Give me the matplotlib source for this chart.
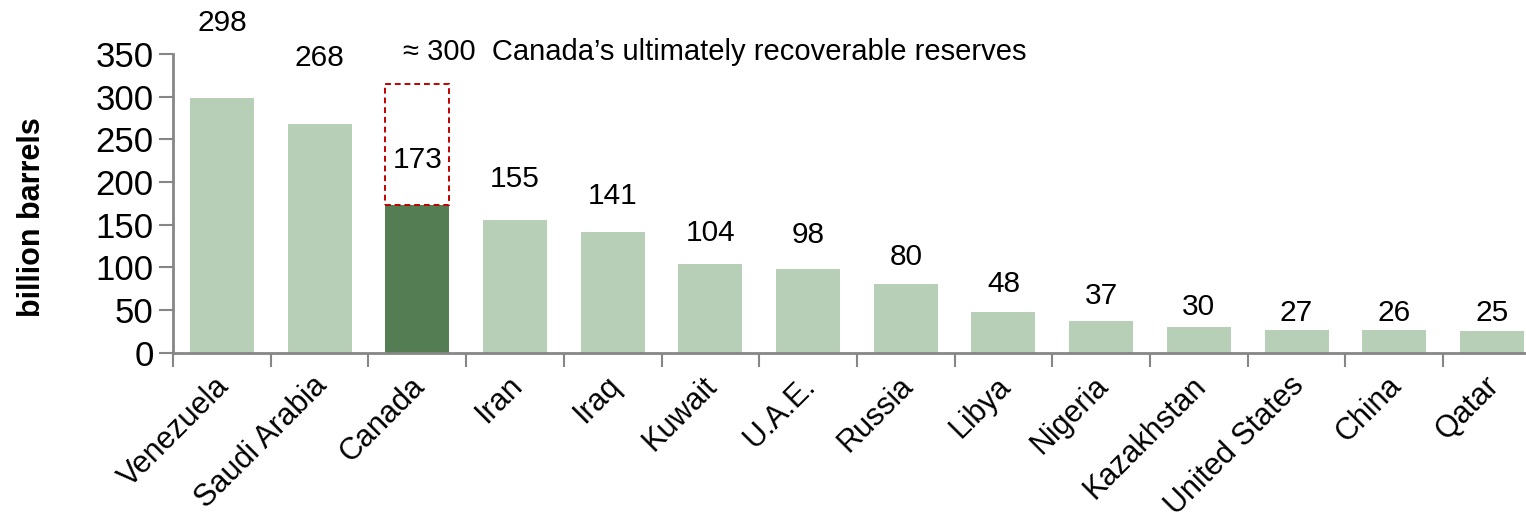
import matplotlib
matplotlib.use("Agg")
import matplotlib.pyplot as plt
from matplotlib.patches import Rectangle
from matplotlib.ticker import FixedLocator, MultipleLocator
from matplotlib.transforms import ScaledTranslation

plt.rcParams['font.family'] = ['Liberation Sans', 'DejaVu Sans']

countries = ["Venezuela", "Saudi Arabia", "Canada", "Iran", "Iraq", "Kuwait",
             "U.A.E.", "Russia", "Libya", "Nigeria", "Kazakhstan",
             "United States", "China", "Qatar"]
reserves = [298, 268, 173, 155, 141, 104, 98, 80, 48, 37, 30, 27, 26, 25]
# heights (in billion barrels) at which the value labels sit
label_pos = [386, 345, 226, 203, 183, 140, 138, 112, 80, 66, 53, 46, 46, 47]
canada_ultimate = 315
canada_note = "\u2248 300  Canada\u2019s ultimately recoverable reserves"

light = "#B7CFB7"
dark = "#547D54"
axis_grey = "#868686"

fig = plt.figure(figsize=(15.26, 5.15), dpi=100)
ax = fig.add_axes([0.1134, 0.3152, 0.8963, 0.580])

x = list(range(len(countries)))
colors = [dark if c == "Canada" else light for c in countries]
bw = 0.655
ax.bar(x, reserves, width=bw, color=colors, edgecolor="none", zorder=2)

for xi, v, ly in zip(x, reserves, label_pos):
    ax.text(xi, ly, f"{v}", ha="center", va="center", fontsize=21.5,
            color="black", clip_on=False)

# dashed outline for Canada's ultimately recoverable reserves
ci = countries.index("Canada")
c_val = reserves[ci]
ax.add_patch(Rectangle((ci - bw / 2, c_val), bw, canada_ultimate - c_val,
                       fill=False, edgecolor="#C00000", linestyle=(0, (3, 2)),
                       linewidth=1.4, clip_on=False, zorder=3))
ax.text(ci - bw / 2 + 0.18, 352, canada_note, ha="left", va="center",
        fontsize=21, color="black", clip_on=False)

ax.set_xlim(-0.5, len(countries) - 0.5)
ax.set_ylim(0, 350)
ax.yaxis.set_major_locator(MultipleLocator(50))
ax.tick_params(axis="y", labelsize=25, length=10, width=1.5, color=axis_grey,
               direction="out", pad=4)

ax.set_xticks(x)
ax.set_xticklabels(countries, rotation=45, ha="right", rotation_mode="anchor",
                   fontsize=22)
ax.tick_params(axis="x", which="major", length=0, pad=16)
shift = ScaledTranslation(-8 / 100, 4 / 100, fig.dpi_scale_trans)
for lab in ax.get_xticklabels():
    lab.set_transform(lab.get_transform() + shift)
ax.xaxis.set_minor_locator(FixedLocator([i - 0.5 for i in range(len(countries) + 1)]))
ax.tick_params(axis="x", which="minor", length=10, width=1.5, color=axis_grey,
               direction="out")

for s in ["top", "right"]:
    ax.spines[s].set_visible(False)
for s in ["left", "bottom"]:
    ax.spines[s].set_color(axis_grey)
    ax.spines[s].set_linewidth(2)

ax.set_ylabel("billion barrels", fontsize=22, fontweight="bold")
ax.yaxis.set_label_coords(-0.092, 0.455)

fig.savefig("out.png", dpi=100)
